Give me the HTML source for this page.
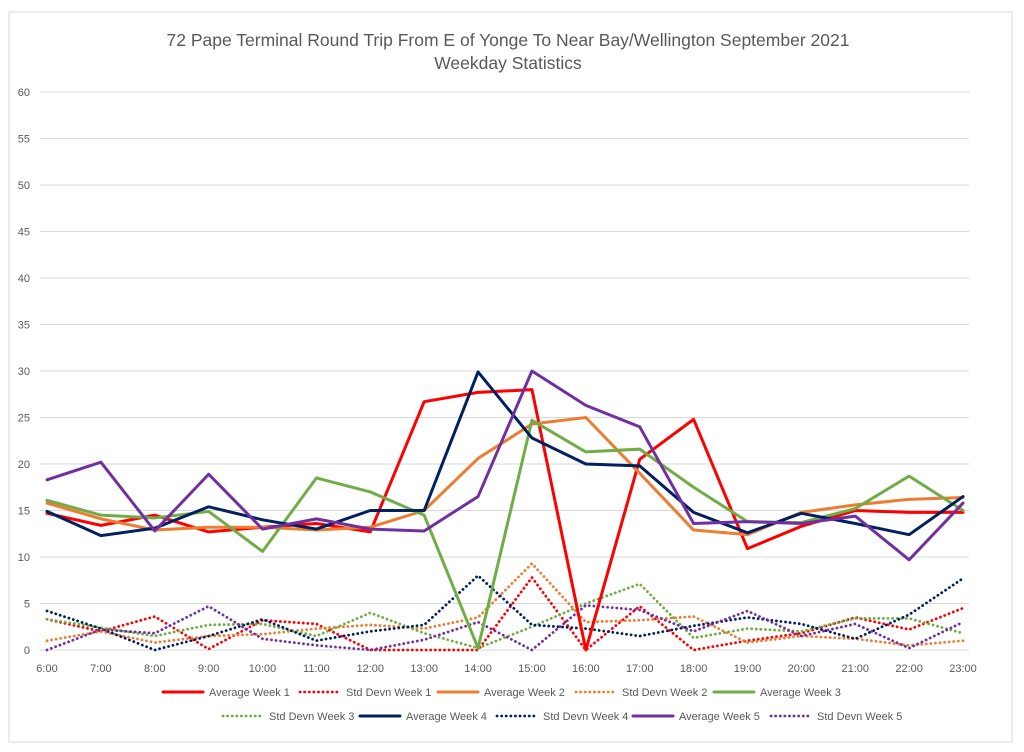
<!DOCTYPE html>
<html><head><meta charset="utf-8"><style>
body{margin:0;background:#fff;font-family:"Liberation Sans",sans-serif;}
svg text{font-family:"Liberation Sans",sans-serif;fill:#595959;}
</style></head><body>
<svg id="c" width="1024" height="747">
<rect x="9" y="12" width="1003" height="730" fill="#fff" stroke="#d9d9d9"/>
<text x="508" y="46" text-anchor="middle" font-size="17.5">72 Pape Terminal Round Trip From E of Yonge To Near Bay/Wellington September 2021</text>
<text x="508" y="69" text-anchor="middle" font-size="17.5">Weekday Statistics</text>
<g id="grid"></g><g id="series"></g><g id="legend"></g>
</svg>
<script>
const categories=["6:00","7:00","8:00","9:00","10:00","11:00","12:00","13:00","14:00","15:00","16:00","17:00","18:00","19:00","20:00","21:00","22:00","23:00"];
const yTicks=[0,5,10,15,20,25,30,35,40,45,50,55,60];
const avgW1=[14.7,13.4,14.5,12.7,13.2,13.6,12.7,26.7,27.7,28,0,20.5,24.8,10.9,13.3,15,14.8,14.8];
const sdW1=[3.3,2,3.6,0.1,3.2,2.8,0,0,0,7.8,0,4.7,0,1,1.8,3.5,2.2,4.5];
const avgW2=[15.8,14.1,12.9,13.2,13.2,12.9,13.2,15,20.6,24.3,25,19,12.9,12.4,14.8,15.6,16.2,16.4];
const sdW2=[1,2,0.8,1.5,1.7,2.3,2.7,2.3,3.5,9.3,3,3.2,3.6,0.8,1.5,1.2,0.5,1];
const avgW3=[16.1,14.5,14.2,14.9,10.6,18.5,17,14.5,0.2,24.7,21.3,21.6,17.5,13.8,13.7,15.2,18.7,15];
const sdW3=[3.3,2.4,1.5,2.7,2.8,1.5,4,1.8,0.2,2.5,5,7.1,1.3,2.3,2,3.4,3.4,1.8];
const avgW4=[14.9,12.3,13.1,15.4,14,13,15,15,29.9,22.8,20,19.8,14.8,12.6,14.7,13.6,12.4,16.5];
const sdW4=[4.2,2.3,0,1.5,3.3,1,2,2.7,8,2.7,2.3,1.5,2.6,3.5,2.8,1.2,3.8,7.7];
const avgW5=[18.3,20.2,12.8,18.9,13,14.1,13,12.8,16.5,30,26.3,24,13.6,13.8,13.6,14.4,9.7,15.8];
const sdW5=[0,2.2,1.8,4.7,1.2,0.5,0,1.1,3,0,4.8,4.3,2,4.2,1.5,2.8,0.2,3];
const NS="http://www.w3.org/2000/svg";
const x0=47,x1=963,yb=650,yt=92,ymax=60;
const xs=i=>x0+i*(x1-x0)/(categories.length-1);
const ys=v=>yb-v*(yb-yt)/ymax;
function mk(t,a,p){const e=document.createElementNS(NS,t);for(const k in a)e.setAttribute(k,a[k]);p.appendChild(e);return e;}
const grid=document.getElementById('grid');
yTicks.forEach(v=>{
  const l=mk('line',{x1:x0-7,x2:x1+6,y1:ys(v),y2:ys(v),stroke:'#d9d9d9','stroke-width':1},grid);
  
  
  const t=mk('text',{x:30,y:ys(v)+4,'text-anchor':'end','font-size':11},grid);
  t.textContent=v;
  
  
});
categories.forEach((c,i)=>{
  const t=mk('text',{x:xs(i),y:672,'text-anchor':'middle','font-size':11},grid);
  t.textContent=c;
  
  
});
const series=[
 ["Std Devn Week 1",sdW1,'#ff0000',true],["Std Devn Week 2",sdW2,'#ed7d31',true],["Std Devn Week 3",sdW3,'#70ad47',true],["Std Devn Week 4",sdW4,'#002060',true],["Std Devn Week 5",sdW5,'#7030a0',true],
 ["Average Week 1",avgW1,'#ff0000',false],["Average Week 2",avgW2,'#ed7d31',false],["Average Week 3",avgW3,'#70ad47',false],["Average Week 4",avgW4,'#002060',false],["Average Week 5",avgW5,'#7030a0',false]];
const sg=document.getElementById('series');
series.forEach(s=>{
  const d=s[1].map((v,i)=>(i?'L':'M')+xs(i)+','+ys(v)).join(' ');
  const p=mk('path',{d:d,fill:'none',stroke:s[2],'stroke-width':s[3]?2.8:3,'stroke-linejoin':'round','stroke-linecap':'round','stroke-dasharray':s[3]?'0.1 4.5':'none'},sg);
  
  
});
const leg=[["Average Week 1",163,696],["Std Devn Week 1",300,696],["Average Week 2",438,696],["Std Devn Week 2",576,696],["Average Week 3",714,696],
 ["Std Devn Week 3",223,720],["Average Week 4",360,720],["Std Devn Week 4",497,720],["Average Week 5",633,720],["Std Devn Week 5",771,720]];
const lg=document.getElementById('legend');
leg.forEach(e=>{
  const s=series.find(q=>q[0]===e[0]);
  const g=mk('g',{},lg);
  
  
  mk('line',{x1:e[1],x2:e[1]+40,y1:e[2]-4,y2:e[2]-4,stroke:s[2],'stroke-width':s[3]?2.8:3,'stroke-linecap':'round','stroke-dasharray':s[3]?'0.1 4.5':'none'},g);
  const t=mk('text',{x:e[1]+46,y:e[2],'font-size':11},g);
  t.textContent=e[0];
});
</script>
</body></html>
